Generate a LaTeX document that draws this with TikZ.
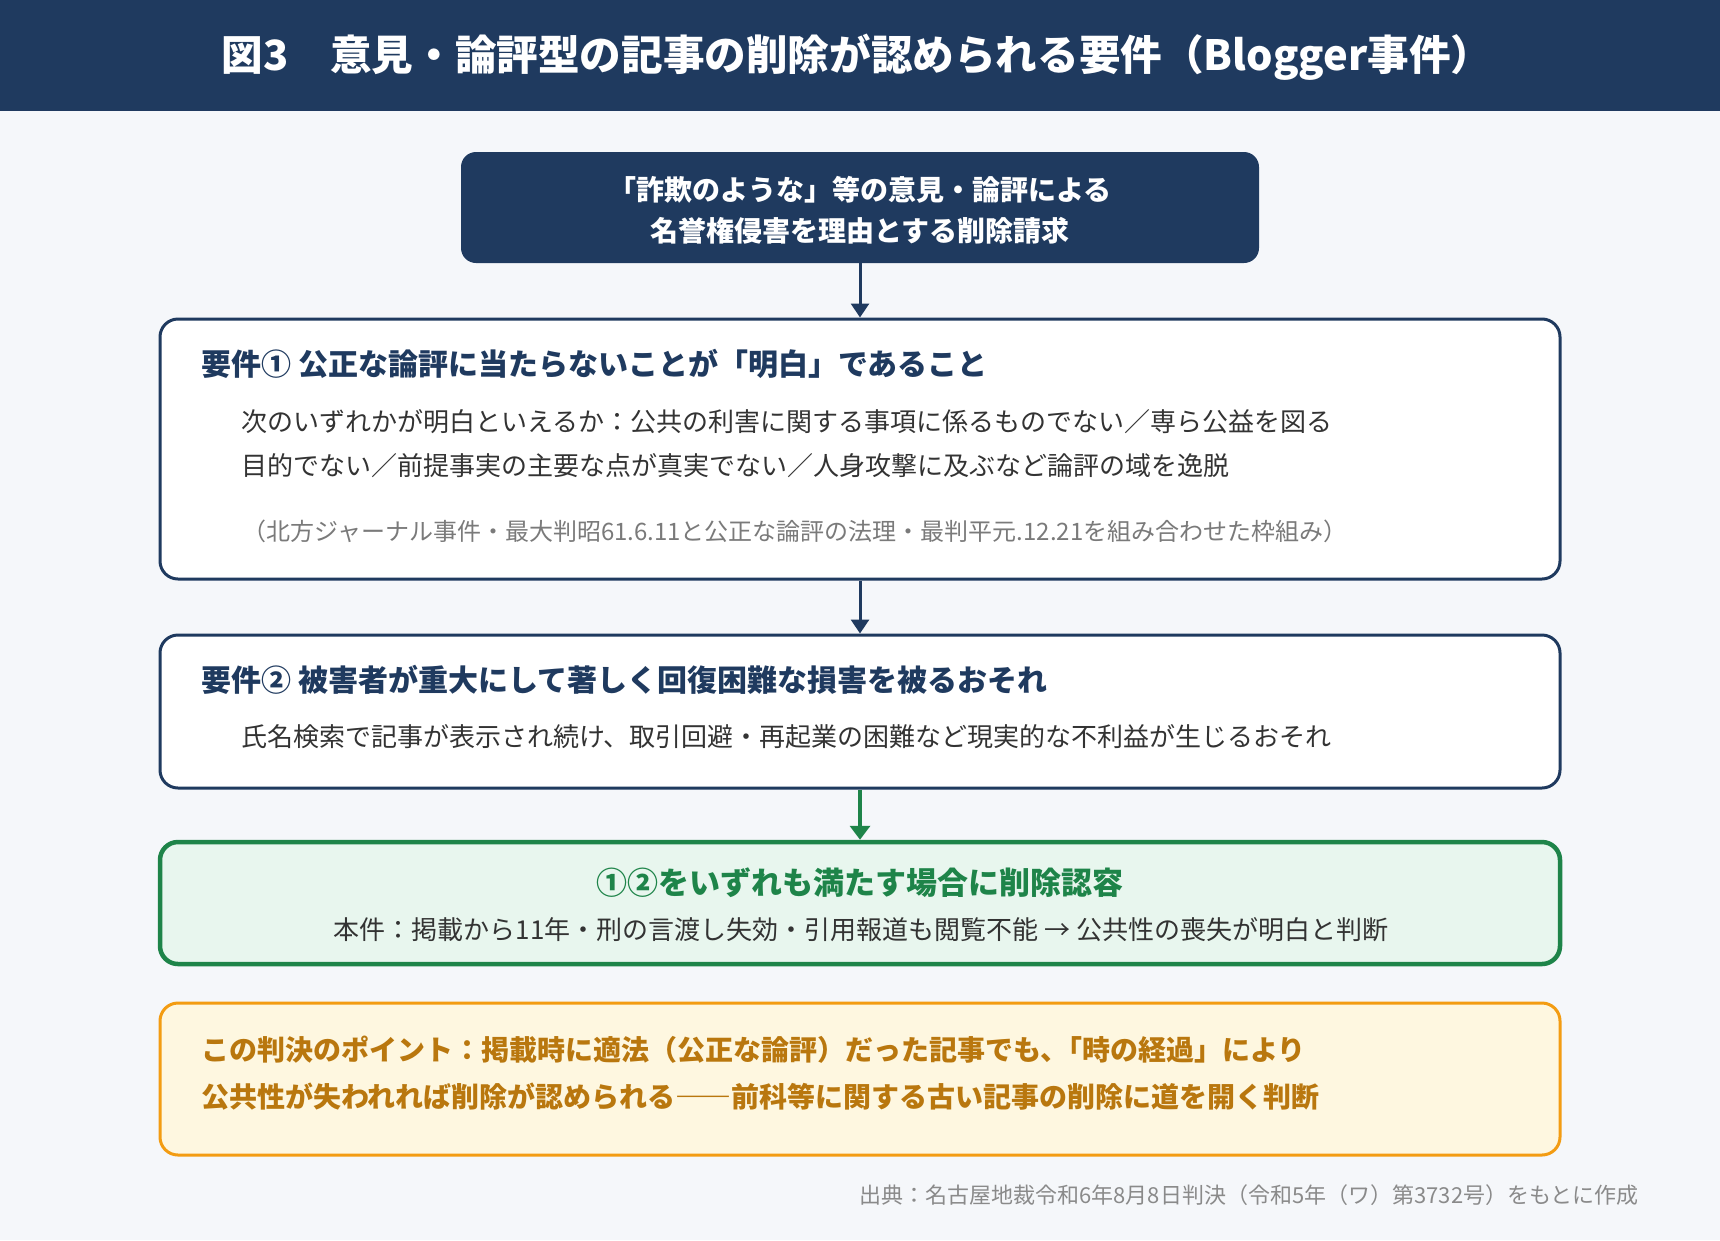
\documentclass[tikz,border=0pt]{standalone}
\usepackage{fontspec}
\setmainfont{Noto Sans CJK JP}
\usetikzlibrary{arrows.meta}
\definecolor{navy}{HTML}{1F3A5F}
\definecolor{bgc}{HTML}{F5F7FA}
\definecolor{bodyc}{HTML}{333333}
\definecolor{notec}{HTML}{7A7A7A}
\definecolor{srcc}{HTML}{8A8A8A}
\definecolor{grn}{HTML}{1E8449}
\definecolor{grnfill}{HTML}{E8F6EE}
\definecolor{org}{HTML}{F39C12}
\definecolor{orgfill}{HTML}{FEF7E0}
\definecolor{orgtext}{HTML}{B9770E}
\tikzset{
  fs/.style={font=\fontsize{#1}{#1}\selectfont},
  fsb/.style={font=\fontsize{#1}{#1}\selectfont\bfseries},
  panel/.style={draw=navy, line width=3pt, fill=white, rounded corners=18pt, minimum width=1400pt, inner sep=0pt},
  headtxt/.style={fsb=30, text=navy, anchor=west, inner sep=0pt},
  bodytxt/.style={fs=26, text=bodyc, anchor=west, inner sep=0pt},
  notetxt/.style={fs=24, text=notec, anchor=west, inner sep=0pt},
  arr/.style={draw=navy, line width=3pt, -{Triangle[length=14pt,width=18pt]}},
  garr/.style={draw=grn, line width=4pt, -{Triangle[length=14pt,width=20pt]}},
}
\begin{document}
\begin{tikzpicture}[x=1pt,y=-1pt]
\useasboundingbox (0,0) rectangle (1720,1240);
\fill[bgc] (0,0) rectangle (1720,1240);
\fill[navy] (0,0) rectangle (1720,111);
\node[fsb=41.6, text=white, inner sep=0pt] (title) at (857,57) {図3　意見・論評型の記事の削除が認められる要件（Blogger事件）};

% top request box
\node[fill=navy, rounded corners=15pt, minimum width=798pt, minimum height=111pt, inner sep=0pt] (req) at (860,207.5) {};
\node[fsb=28, text=white, inner sep=0pt] (req1) at (860,190) {「詐欺のような」等の意見・論評による};
\node[fsb=28, text=white, inner sep=0pt] (req2) at (860,231) {名誉権侵害を理由とする削除請求};

% requirement 1
\node[panel, minimum height=260pt] (r1) at (860,449) {};
\node[headtxt] (r1h) at (201,364) {要件① 公正な論評に当たらないことが「明白」であること};
\node[bodytxt] (r1a) at (241,422) {次のいずれかが明白といえるか：公共の利害に関する事項に係るものでない／専ら公益を図る};
\node[bodytxt] (r1b) at (241,466) {目的でない／前提事実の主要な点が真実でない／人身攻撃に及ぶなど論評の域を逸脱};
\node[notetxt] (r1n) at (242,531) {（北方ジャーナル事件・最大判昭61.6.11と公正な論評の法理・最判平元.12.21を組み合わせた枠組み）};

% requirement 2
\node[panel, minimum height=153pt] (r2) at (860,711.5) {};
\node[headtxt] (r2h) at (201,680) {要件② 被害者が重大にして著しく回復困難な損害を被るおそれ};
\node[bodytxt] (r2a) at (241,737) {氏名検索で記事が表示され続け、取引回避・再起業の困難など現実的な不利益が生じるおそれ};

% result
\node[draw=grn, line width=4.5pt, fill=grnfill, rounded corners=18pt, minimum width=1400pt, minimum height=122pt, inner sep=0pt] (res) at (860,903) {};
\node[fsb=31, text=grn, inner sep=0pt] (resh) at (860,883) {①②をいずれも満たす場合に削除認容};
\node[fs=26, text=bodyc, inner sep=0pt] (resb) at (861,930) {本件：掲載から11年・刑の言渡し失効・引用報道も閲覧不能 → 公共性の喪失が明白と判断};

% point
\node[draw=org, line width=3pt, fill=orgfill, rounded corners=18pt, minimum width=1400pt, minimum height=152pt, inner sep=0pt] (pt) at (860,1079) {};
\node[fsb=28, text=orgtext, anchor=west, inner sep=0pt] (pt1) at (201,1050) {この判決のポイント：掲載時に適法（公正な論評）だった記事でも、\kern-0.5em「時の経過」により};
\node[fsb=28, text=orgtext, anchor=west, inner sep=0pt] (pt2) at (201,1097) {公共性が失われれば削除が認められる――前科等に関する古い記事の削除に道を開く判断};

% source
\node[fs=22, text=srcc, anchor=east, inner sep=0pt] (src) at (1639,1195) {出典：名古屋地裁令和6年8月8日判決（令和5年（ワ）第3732号）をもとに作成};

% arrows
\draw[arr] (req.south) -- (r1.north);
\draw[arr] (r1.south) -- (r2.north);
\draw[garr] (r2.south) -- (res.north);
\end{tikzpicture}
\end{document}
